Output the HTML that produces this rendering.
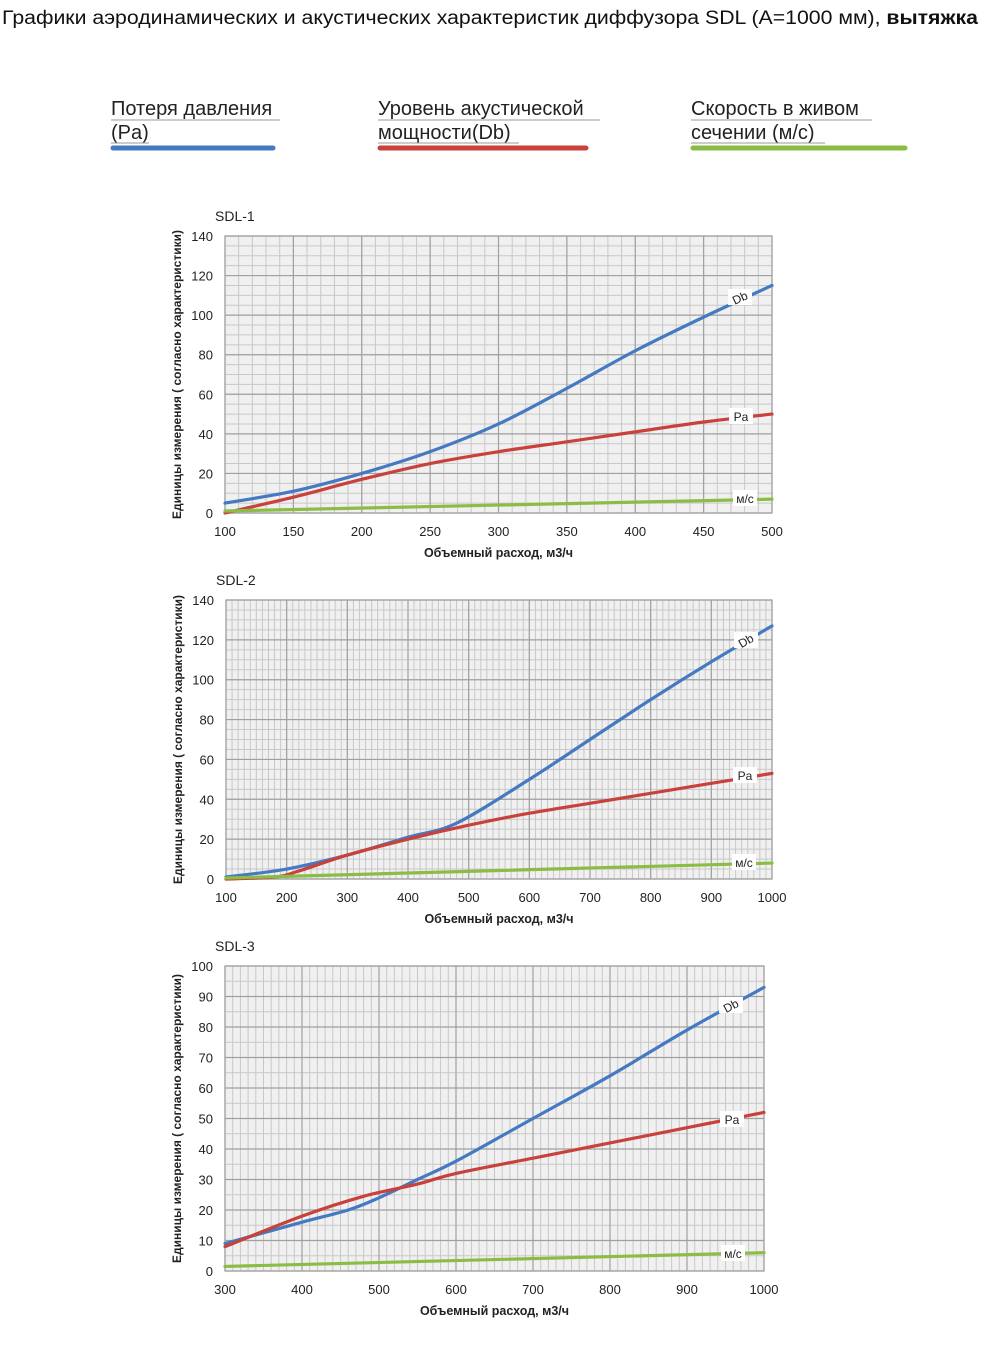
<!DOCTYPE html>
<html><head><meta charset="utf-8">
<style>
html,body{margin:0;padding:0;background:#fff;width:992px;height:1345px;overflow:hidden}
svg{position:absolute;left:0;top:0}
text{font-family:"Liberation Sans","DejaVu Sans",sans-serif}
</style></head>
<body>
<svg id="s" width="992" height="1345" xmlns="http://www.w3.org/2000/svg">
<text x="2" y="24" font-size="19" fill="#111" textLength="976" lengthAdjust="spacingAndGlyphs">Графики аэродинамических и акустических характеристик  диффузора SDL (А=1000 мм), <tspan font-weight="bold">вытяжка</tspan></text>
<g font-size="20" fill="#222">
<text x="111" y="115">Потеря давления</text><text x="111" y="139">(Pa)</text>
<text x="378" y="115">Уровень акустической</text><text x="378" y="139">мощности(Db)</text>
<text x="691" y="115">Скорость в живом</text><text x="691" y="139">сечении (м/с)</text>
</g>
<g stroke="#999" stroke-width="1">
<line x1="111" y1="120" x2="280" y2="120"/><line x1="111" y1="143" x2="149" y2="143"/>
<line x1="378" y1="120" x2="600" y2="120"/><line x1="378" y1="143" x2="519" y2="143"/>
<line x1="691" y1="120" x2="872" y2="120"/><line x1="691" y1="143" x2="825" y2="143"/>
</g>
<g stroke-width="5" stroke-linecap="round">
<line x1="113" y1="148" x2="273" y2="148" stroke="#4579c2"/>
<line x1="380" y1="148" x2="586" y2="148" stroke="#c8413b"/>
<line x1="693" y1="148" x2="905" y2="148" stroke="#8bbd45"/>
</g>
</svg>
<script>
var s=document.getElementById('s'),NS='http://www.w3.org/2000/svg';
function el(t,a,txt){var e=document.createElementNS(NS,t);for(var k in a)e.setAttribute(k,a[k]);if(txt!=null)e.textContent=txt;s.appendChild(e);return e;}
function chart(c){
 var X=function(v){return c.x0+(v-c.xa)/(c.xb-c.xa)*(c.x1-c.x0)},Y=function(v){return c.y0-(v-c.ya)/(c.yb-c.ya)*(c.y0-c.y1)};
 el('rect',{x:c.x0,y:c.y1,width:c.x1-c.x0,height:c.y0-c.y1,fill:'#f0f0f0'});
 var i,v;
 for(v=c.xa;v<=c.xb+1e-6;v+=c.xmin)el('line',{x1:X(v),x2:X(v),y1:c.y1,y2:c.y0,stroke:'#c8c8c8','stroke-width':1});
 for(v=c.ya;v<=c.yb+1e-6;v+=c.ymin)el('line',{x1:c.x0,x2:c.x1,y1:Y(v),y2:Y(v),stroke:'#c8c8c8','stroke-width':1});
 for(v=c.xa;v<=c.xb+1e-6;v+=c.xmaj){el('line',{x1:X(v),x2:X(v),y1:c.y1,y2:c.y0,stroke:'#a0a0a0','stroke-width':1.2});
  el('text',{x:X(v),y:c.y0+23,'font-size':13,'text-anchor':'middle',fill:'#222'},String(v));}
 for(v=c.ya;v<=c.yb+1e-6;v+=c.ymaj){el('line',{x1:c.x0,x2:c.x1,y1:Y(v),y2:Y(v),stroke:'#a0a0a0','stroke-width':1.2});
  el('text',{x:c.x0-12,y:Y(v)+5,'font-size':13,'text-anchor':'end',fill:'#222'},String(v));}
 el('rect',{x:c.x0,y:c.y1,width:c.x1-c.x0,height:c.y0-c.y1,fill:'none',stroke:'#a0a0a0','stroke-width':1.2});
 el('text',{x:c.x0-10,y:c.y1-15,'font-size':14,fill:'#222'},c.name);
 el('text',{x:(c.x0+c.x1)/2,y:c.y0+44,'font-size':12.5,'font-weight':'bold','text-anchor':'middle',fill:'#222'},'Объемный расход, м3/ч');
 var cy=(c.y0+c.y1)/2;
 el('text',{x:0,y:0,'font-size':12,'font-weight':'bold','text-anchor':'middle',fill:'#222',transform:'translate('+(c.x0-44)+','+cy+') rotate(-90)'},'Единицы измерения ( согласно характеристики)');
 c.series.forEach(function(sr){
  var p=sr.pts.map(function(q){return [X(q[0]),Y(q[1])]});
  var d='M'+p[0][0]+','+p[0][1];
  for(i=0;i<p.length-1;i++){var p0=p[i-1]||p[i],p1=p[i],p2=p[i+1],p3=p[i+2]||p2;
   d+=' C'+(p1[0]+(p2[0]-p0[0])/6)+','+(p1[1]+(p2[1]-p0[1])/6)+' '+(p2[0]-(p3[0]-p1[0])/6)+','+(p2[1]-(p3[1]-p1[1])/6)+' '+p2[0]+','+p2[1];}
  el('path',{d:d,fill:'none',stroke:sr.col,'stroke-width':3.2,'stroke-linecap':'round'});
  var lx=sr.lx,ly=sr.ly;
  el('rect',{x:lx-12,y:ly-9,width:24,height:16,fill:'#fff'});
  el('text',{x:lx,y:ly+4,'font-size':12,'text-anchor':'middle',fill:'#222',transform:sr.rot?'rotate('+sr.rot+' '+lx+' '+ly+')':''},sr.t);
 });
}
var B='#4579c2',R='#c8413b',G='#8bbd45';
chart({name:'SDL-1',x0:225,x1:772,y0:513,y1:236,xa:100,xb:500,ya:0,yb:140,xmaj:50,xmin:10,ymaj:20,ymin:5,series:[
 {col:B,pts:[[100,5],[150,11],[200,20],[250,31],[300,45],[350,63],[400,82],[450,99],[500,115]],t:'Db',lx:740,ly:298,rot:-25},
 {col:R,pts:[[100,0],[150,8],[200,17],[250,25],[300,31],[350,36],[400,41],[450,46],[500,50]],t:'Pa',lx:741,ly:417,rot:0},
 {col:G,pts:[[100,1],[500,7]],t:'м/с',lx:745,ly:499,rot:0}]});
chart({name:'SDL-2',x0:226,x1:772,y0:879,y1:600,xa:100,xb:1000,ya:0,yb:140,xmaj:100,xmin:10,ymaj:20,ymin:5,series:[
 {col:B,pts:[[100,1],[200,5],[300,12],[400,21],[480,28],[600,50],[700,70],[800,90],[900,109],[1000,127]],t:'Db',lx:746,ly:641,rot:-30},
 {col:R,pts:[[100,0],[180,1],[220,4],[300,12],[400,20],[500,27],[600,33],[700,38],[800,43],[900,48],[1000,53]],t:'Pa',lx:745,ly:776,rot:0},
 {col:G,pts:[[100,0.5],[1000,8]],t:'м/с',lx:744,ly:863,rot:0}]});
chart({name:'SDL-3',x0:225,x1:764,y0:1271,y1:966,xa:300,xb:1000,ya:0,yb:100,xmaj:100,xmin:10,ymaj:10,ymin:5,series:[
 {col:B,pts:[[300,9],[400,16],[460,20],[500,24],[550,30],[600,36],[700,50],[800,64],[900,79],[1000,93]],t:'Db',lx:731,ly:1006,rot:-28},
 {col:R,pts:[[300,8],[400,18],[480,24.5],[550,28.5],[600,32],[700,37],[800,42],[900,47],[1000,52]],t:'Pa',lx:732,ly:1120,rot:0},
 {col:G,pts:[[300,1.5],[1000,6]],t:'м/с',lx:733,ly:1254,rot:0}]});
</script>
</body></html>
